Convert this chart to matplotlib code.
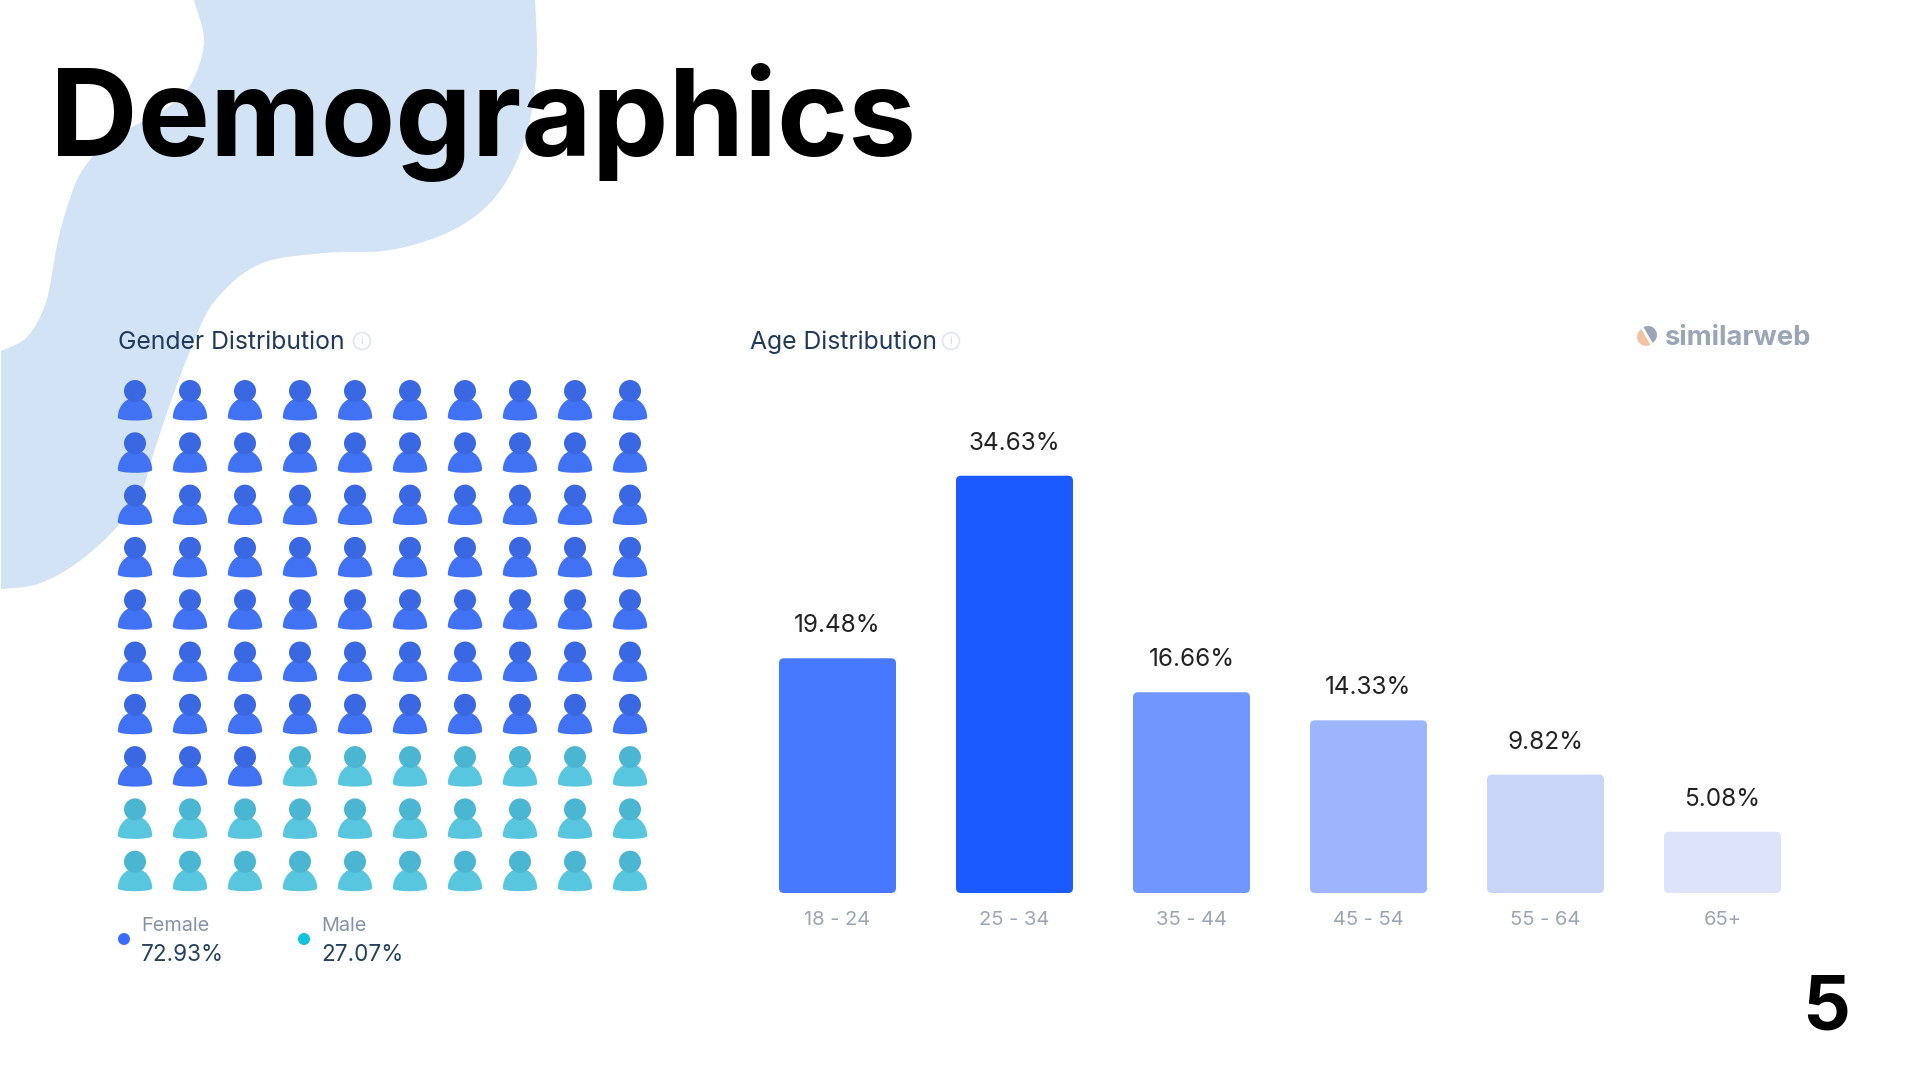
import matplotlib
matplotlib.use("Agg")
import matplotlib.pyplot as plt
from matplotlib.patches import Circle, FancyBboxPatch, PathPatch, Wedge
from matplotlib.path import Path

plt.rcParams["font.family"] = ["Inter", "DejaVu Sans"]

# Data
age_groups = ["18 - 24", "25 - 34", "35 - 44", "45 - 54", "55 - 64", "65+"]
age_values = [19.48, 34.63, 16.66, 14.33, 9.82, 5.08]
age_colors = ["#4679FF", "#1A5AFF", "#7098FC", "#9CB5FC", "#C8D4F8", "#DDE3F8"]

gender_names = ["Female", "Male"]
gender_values = [72.93, 27.07]

W, H = 1920, 1080
fig = plt.figure(figsize=(W / 100, H / 100), dpi=100, facecolor="white")


def px_axes(left, top, right, bottom):
    a = fig.add_axes([left / W, 1 - bottom / H, (right - left) / W, (bottom - top) / H])
    a.patch.set_alpha(0)
    a.axis("off")
    return a


# page layer in pixel coordinates
page = px_axes(0, 0, W, H)
page.set_xlim(0, W)
page.set_ylim(H, 0)

# Background blob, smoothed through hand-read outline points
blob_top = [(194, 0), (204, 42), (191, 84), (168, 107), (134, 126), (107, 142), (92, 157), (77, 180),
            (65, 214), (57, 245), (46, 302), (27, 337), (1, 351)]
blob_bottom = [(1, 589), (38, 584), (77, 563), (118, 526), (142, 490), (153, 455), (168, 410),
               (188, 356), (214, 302), (260, 264), (325, 253), (383, 251), (429, 240), (467, 222),
               (497, 195), (518, 158), (531, 115), (537, 60), (535, 0)]


def smooth(points):
    verts, codes = [], []
    for i in range(len(points) - 1):
        p0 = points[max(i - 1, 0)]
        p1 = points[i]
        p2 = points[i + 1]
        p3 = points[min(i + 2, len(points) - 1)]
        c1 = (p1[0] + (p2[0] - p0[0]) / 6, p1[1] + (p2[1] - p0[1]) / 6)
        c2 = (p2[0] - (p3[0] - p1[0]) / 6, p2[1] - (p3[1] - p1[1]) / 6)
        verts += [c1, c2, p2]
        codes += [Path.CURVE4] * 3
    return verts, codes


v1, c1 = smooth(blob_top)
v2, c2 = smooth(blob_bottom)
verts = [blob_top[0]] + v1 + [blob_bottom[0]] + v2 + [blob_top[0]]
codes = [Path.MOVETO] + c1 + [Path.LINETO] + c2 + [Path.CLOSEPOLY]
page.add_patch(PathPatch(Path(verts, codes), fc="#D1E3F5", ec="none"))

# Title and page number
page.text(50, 156, "Demographics", fontsize=87.4, fontweight="bold", color="black", va="baseline")
page.text(1826, 1030, "5", fontsize=54, fontweight="bold", color="black", ha="center", va="baseline")

# Section headings
for x, label, ix in [(118, "Gender Distribution", 362), (750, "Age Distribution", 951)]:
    page.text(x, 349, label, fontsize=17.8, color="#1F3A5A", va="baseline")
    page.add_patch(Circle((ix, 341), 8.5, fc="white", ec="#E1E5EE", lw=1.2))
    page.text(ix, 341, "i", fontsize=8, color="#D5DAE4", ha="center", va="center")

# similarweb logo
page.add_patch(Wedge((1646, 337), 9, 60, 240, fc="#F4C3A6", ec="none"))
page.add_patch(Wedge((1648, 335), 9, 240, 60, fc="#9AA6B5", ec="none"))
page.text(1664, 345, "similarweb", fontsize=19.7, fontweight="bold", color="#9AA6B5", va="baseline")

# Gender waffle, 10 x 10 people
waffle = px_axes(107.5, 364.85, 657.5, 887.85)
waffle.set_xlim(-0.5, 9.5)
waffle.set_ylim(9.5, -0.5)

n_female = round(gender_values[0])
cols = [i % 10 for i in range(100)]
rows = [i // 10 for i in range(100)]
body_colors = ["#4172F4" if i < n_female else "#57C6DE" for i in range(100)]
head_colors = ["#3A67E2" if i < n_female else "#4BB6D2" for i in range(100)]

body = Path(
    [(-1, -0.45), (-1, 0.2), (-0.55, 0.7), (0, 0.7), (0.55, 0.7), (1, 0.2), (1, -0.45),
     (1, -0.68), (-1, -0.68), (-1, -0.45), (-1, -0.45)],
    [Path.MOVETO] + [Path.CURVE4] * 9 + [Path.CLOSEPOLY],
)
waffle.scatter(cols, [r + 0.36 for r in rows], s=610, marker=body, c=body_colors, linewidths=0, clip_on=False)
waffle.scatter(cols, rows, s=251, marker="o", c=head_colors, linewidths=0, clip_on=False)

# Gender legend
legend_dots = ["#3B6CFF", "#12C2DC"]
for x, name, value, color in zip([124, 304], gender_names, gender_values, legend_dots):
    page.add_patch(Circle((x, 939), 6, fc=color, ec="none"))
    page.text(x + 17, 931, name, fontsize=14.3, color="#8593A8", va="baseline")
    page.text(x + 17, 961, f"{value:.2f}%", fontsize=16.2, color="#24405F", va="baseline")

# Age bars
ax = px_axes(749, 440, 1811, 893)
ax.set_xlim(-0.5, 5.5)
ax.set_ylim(0, 453 / 12.05)
bar_w = 0.661
for i, (v, color) in enumerate(zip(age_values, age_colors)):
    ax.add_patch(FancyBboxPatch((i - bar_w / 2, 0), bar_w, v,
                                boxstyle="round,pad=0,rounding_size=0.028",
                                mutation_aspect=14.7, fc=color, ec="none"))
    ax.text(i, v + 2.15, f"{v:.2f}%", fontsize=17.5, color="#222222", ha="center", va="baseline")
    page.text(837.5 + 177 * i, 925, age_groups[i], fontsize=14.5, color="#9AA6B4", ha="center", va="baseline")

fig.savefig("out.png", dpi=100)
